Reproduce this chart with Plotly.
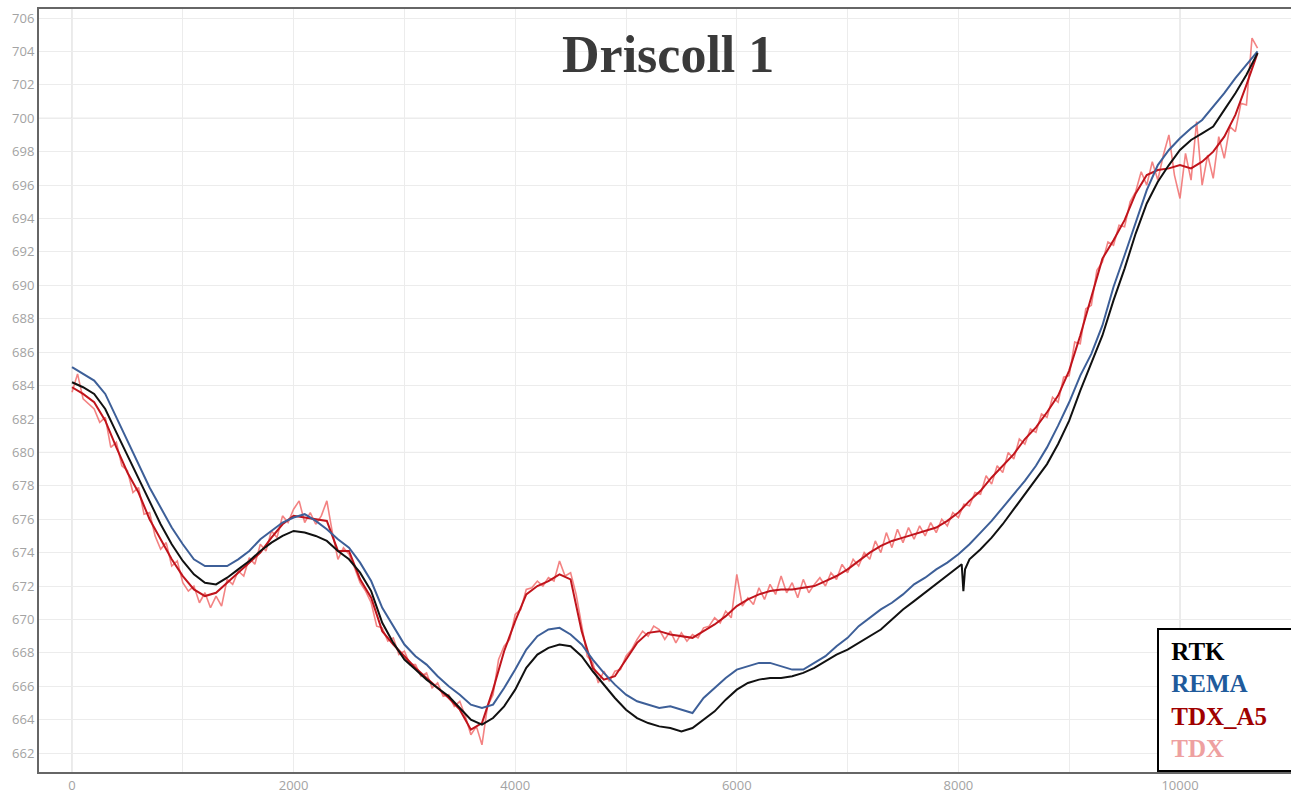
import plotly.graph_objects as go

# Distance along the profile (m) for the smoothed series, every 100 m
dist = list(range(0, 10701, 100))

# RTK reference elevations (m); a short glitch is logged just after 8000 m
rtk_dist = list(range(0, 8001, 100)) + [8030, 8045, 8060] + list(range(8100, 10701, 100))
rtk = [
    684.2, 683.9, 683.5, 682.6, 681.2, 679.8, 678.4, 677.0, 675.7, 674.5,
    673.5, 672.7, 672.2, 672.1, 672.5, 673.0, 673.5, 674.1, 674.6, 675.0,
    675.3, 675.2, 675.0, 674.7, 674.1, 673.6, 672.8, 671.7, 669.8, 668.6,
    667.6, 667.0, 666.4, 665.9, 665.4, 664.7, 664.0, 663.7, 664.1, 664.8,
    665.8, 667.1, 667.9, 668.3, 668.5, 668.4, 667.8, 666.9, 666.1, 665.3,
    664.6, 664.1, 663.8, 663.6, 663.5, 663.3, 663.5, 664.0, 664.5, 665.2,
    665.8, 666.2, 666.4, 666.5, 666.5, 666.6, 666.8, 667.1, 667.5, 667.9,
    668.2, 668.6, 669.0, 669.4, 670.0, 670.6, 671.1, 671.6, 672.1, 672.6,
    673.1, 673.3, 671.7, 673.0,
    673.6, 674.2, 674.9, 675.7, 676.6, 677.5, 678.4, 679.3, 680.5,
    681.9, 683.7, 685.3, 687.0, 689.1, 691.0, 693.1, 694.9, 696.2, 697.2,
    698.1, 698.7, 699.1, 699.5, 700.5, 701.5, 702.6, 703.9,
]

# REMA elevations (m)
rema = [
    685.1, 684.7, 684.3, 683.5, 682.1, 680.6, 679.3, 677.9, 676.7, 675.5,
    674.5, 673.6, 673.2, 673.2, 673.2, 673.6, 674.1, 674.8, 675.3, 675.8,
    676.1, 676.3, 675.9, 675.4, 674.8, 674.3, 673.4, 672.3, 670.7, 669.6,
    668.5, 667.8, 667.3, 666.6, 666.0, 665.5, 664.9, 664.7, 664.9, 665.9,
    667.0, 668.2, 669.0, 669.4, 669.5, 669.1, 668.5, 667.6, 666.8, 666.1,
    665.5, 665.1, 664.9, 664.7, 664.8, 664.6, 664.4, 665.3, 665.9, 666.5,
    667.0, 667.2, 667.4, 667.4, 667.2, 667.0, 667.0, 667.4, 667.8, 668.4,
    668.9, 669.6, 670.1, 670.6, 671.0, 671.5, 672.1, 672.5, 673.0, 673.4,
    673.9, 674.5, 675.2, 675.9, 676.7, 677.5, 678.3, 679.2, 680.3, 681.6,
    683.0, 684.6, 685.9, 687.6, 689.9, 691.8, 693.8, 695.7, 697.2, 698.1,
    698.8, 699.4, 699.9, 700.7, 701.5, 702.4, 703.2, 704.0,
]

# TanDEM-X, smoothed (A5) elevations (m)
tdx_a5 = [
    683.9, 683.5, 683.0, 681.9, 680.3, 678.8, 677.6, 676.0, 674.8, 673.6,
    672.6, 671.8, 671.4, 671.6, 672.2, 672.8, 673.4, 674.0, 674.9, 675.7,
    676.2, 676.1, 676.0, 675.9, 674.1, 674.1, 672.4, 671.3, 669.3, 668.5,
    667.8, 667.1, 666.5, 665.9, 665.3, 664.6, 663.4, 663.8, 665.8, 668.1,
    669.9, 671.5, 672.0, 672.3, 672.7, 672.4, 669.3, 667.1, 666.4, 666.6,
    667.6, 668.6, 669.2, 669.3, 669.1, 669.0, 668.9, 669.3, 669.7, 670.2,
    670.8, 671.2, 671.5, 671.7, 671.8, 671.8, 671.9, 672.0, 672.3, 672.6,
    673.0, 673.5, 674.0, 674.4, 674.7, 674.9, 675.1, 675.3, 675.5, 675.9,
    676.4, 677.1, 677.7, 678.5, 679.2, 679.9, 680.8, 681.5, 682.4, 683.4,
    684.9, 687.0, 689.3, 691.6, 692.7, 693.9, 695.5, 696.6, 696.9, 697.0,
    697.2, 697.0, 697.4, 698.0, 698.9, 700.2, 702.0, 703.9,
]

# Raw TanDEM-X elevations (m), every 50 m
tdx_dist = list(range(0, 10701, 50))
tdx = [
    683.6, 684.7, 683.2, 682.9, 682.6, 681.8, 682.1, 680.3, 680.6, 679.2,
    678.9, 677.6, 677.9, 676.3, 676.4, 675.0, 674.2, 674.6, 673.2, 673.5,
    672.2, 671.7, 672.0, 671.0, 671.6, 670.7, 671.4, 670.8, 672.4, 672.1,
    672.9, 672.6, 673.7, 673.3, 674.5, 674.1, 675.3, 674.9, 676.2, 675.8,
    676.6, 677.1, 675.8, 676.4, 675.7, 676.2, 677.1, 675.2, 673.6, 674.3,
    673.9, 673.1, 672.2, 671.7, 671.0, 669.6, 669.5, 668.7, 668.9, 667.9,
    668.1, 667.3, 667.3, 666.6, 666.8, 665.9, 666.2, 665.4, 665.5, 664.8,
    665.1, 664.2, 663.1, 663.6, 662.5, 664.8, 665.5, 667.6, 668.4, 668.8,
    670.3, 670.6, 671.8, 671.9, 672.3, 672.0, 672.5, 672.3, 673.5, 672.6,
    672.8, 671.5, 669.6, 667.8, 667.4, 666.2, 666.9, 666.3, 666.9, 667.0,
    667.8, 668.2, 668.8, 669.3, 669.0, 669.6, 669.4, 668.8, 669.3, 668.6,
    669.2, 668.7, 669.1, 668.9, 669.5, 669.6, 670.1, 669.8, 670.5, 670.1,
    672.7, 670.8, 671.3, 670.9, 671.9, 671.2, 672.1, 671.5, 672.6, 671.6,
    672.2, 671.3, 672.4, 671.6, 672.1, 672.5, 672.0, 672.8, 672.4, 673.3,
    672.8, 673.6, 673.2, 674.0, 673.6, 674.7, 674.0, 675.2, 674.3, 675.4,
    674.6, 675.5, 674.8, 675.6, 675.0, 675.8, 675.2, 676.0, 675.6, 676.4,
    676.1, 676.9, 676.8, 677.6, 677.5, 678.6, 678.1, 679.2, 678.8, 680.0,
    679.6, 680.8, 680.5, 681.4, 681.2, 682.3, 682.1, 683.3, 683.0, 684.5,
    684.6, 686.6, 686.5, 688.6, 688.8, 690.9, 691.4, 692.6, 692.4, 693.6,
    693.5, 695.0, 695.6, 696.8, 696.0, 697.4, 696.3, 697.8, 699.0, 696.6,
    695.2, 697.9, 696.3, 699.8, 696.0, 697.8, 696.4, 698.9, 697.6, 699.5,
    699.2, 700.9, 700.8, 704.8, 704.2,
]

x_range = [-298, 11002]
y_range = [660.87, 706.54]

fig = go.Figure()
fig.add_trace(go.Scatter(x=tdx_dist, y=tdx, mode="lines", name="TDX",
                         line=dict(color="rgba(240,100,100,0.8)", width=1.6)))
fig.add_trace(go.Scatter(x=dist, y=tdx_a5, mode="lines", name="TDX_A5",
                         line=dict(color="#c0141c", width=2)))
fig.add_trace(go.Scatter(x=dist, y=rema, mode="lines", name="REMA",
                         line=dict(color="#3d5f98", width=2)))
fig.add_trace(go.Scatter(x=rtk_dist, y=rtk, mode="lines", name="RTK",
                         line=dict(color="#111111", width=2)))

# Stronger grid lines every 10000 m and every 20 m of elevation
shapes = []
for xv in [0, 10000]:
    shapes.append(dict(type="line", xref="x", yref="paper", x0=xv, x1=xv, y0=0, y1=1,
                       line=dict(color="#d4d4d4", width=1), layer="below"))
for yv in [680, 700]:
    shapes.append(dict(type="line", xref="paper", yref="y", x0=0, x1=1, y0=yv, y1=yv,
                       line=dict(color="#d4d4d4", width=1), layer="below"))

legend_text = (
    "&nbsp;<span style='color:#000000'>RTK</span><br>"
    "&nbsp;<span style='color:#1f5b9c'>REMA</span><br>"
    "&nbsp;<span style='color:#a00000'>TDX_A5</span><br>"
    "&nbsp;<span style='color:#eea0a0'>TDX</span>"
)

fig.update_layout(
    width=1291, height=794,
    margin=dict(l=39, r=0, t=9, b=19),
    plot_bgcolor="white", paper_bgcolor="white",
    showlegend=False,
    shapes=shapes,
    xaxis=dict(
        range=x_range, tickmode="linear", tick0=0, dtick=2000, tickformat="d",
        showgrid=True, gridcolor="#ececec", gridwidth=1,
        minor=dict(dtick=1000, tick0=0, showgrid=True, gridcolor="#ececec"),
        zeroline=False,
        showline=True, linecolor="#666666", linewidth=2, mirror=True,
        ticks="", tickfont=dict(family="Open Sans", size=13, color="#a3a3a3"),
    ),
    yaxis=dict(
        range=y_range, tickmode="linear", tick0=662, dtick=2,
        showgrid=True, gridcolor="#ececec", gridwidth=1,
        zeroline=False,
        showline=True, linecolor="#666666", linewidth=2, mirror=False,
        ticks="", tickfont=dict(family="Open Sans", size=13, color="#a3a3a3"),
    ),
    annotations=[
        dict(text="<b>Driscoll 1</b>", xref="paper", yref="paper",
             x=0.5024, y=0.94, xanchor="center", yanchor="middle", showarrow=False,
             font=dict(family="Liberation Serif", size=52, color="#3a3a3a")),
        dict(text="<b>" + legend_text + "</b>", xref="paper", yref="paper",
             x=0.893, y=0.0, xanchor="left", yanchor="bottom", showarrow=False,
             align="left", valign="middle", width=128, height=128,
             bgcolor="white", bordercolor="#000000", borderwidth=2, borderpad=6,
             font=dict(family="Liberation Serif", size=25)),
    ],
)

fig.write_html("out.html")
